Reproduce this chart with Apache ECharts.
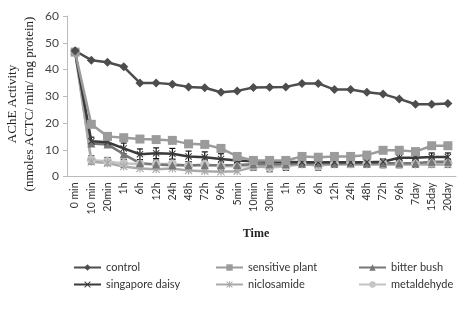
<!DOCTYPE html>
<html>
<head>
<meta charset="utf-8">
<script src="https://cdn.jsdelivr.net/npm/echarts@6/dist/echarts.min.js"></script>
<style>
html, body { margin: 0; padding: 0; background: #fff; }
#chart { width: 458px; height: 322px; }
</style>
</head>
<body>
<div id="chart"></div>
<script>
// time points (x axis)
var times = ['0 min', '10 min', '20min', '1h', '6h', '12h', '24h', '48h', '72h', '96h',
  '5min', '10min', '30min', '1h', '3h', '6h', '12h', '24h', '48h', '72h', '96h', '7day', '15day', '20day'];

// AChE activity per group
var control = [47, 43.5, 42.7, 41, 35, 35, 34.5, 33.5, 33.2, 31.5, 32, 33.3, 33.4, 33.5, 34.8, 34.8, 32.5, 32.5, 31.5, 30.8, 29, 27, 27, 27.3];
var sensitivePlant = [46.5, 19.5, 15, 14.5, 14, 13.8, 13.5, 12.2, 12, 10.5, 7.5, 6, 6, 6, 7.5, 7.2, 7.5, 7.5, 8, 9.8, 9.8, 9.3, 11.5, 11.5];
var bitterBush = [46.5, 12.3, 12, 8.3, 5, 4.5, 4.2, 4.2, 4.2, 4.2, 4.3, 4.6, 4.6, 4.6, 5, 5, 5, 5, 5, 5, 5, 5, 5.5, 5.5];
var singaporeDaisy = [46.5, 13.2, 12.8, 10.5, 8.3, 8.7, 8.5, 7.5, 7.2, 6.5, 6, 5.7, 5.5, 5.5, 5.3, 5.3, 5.3, 5.3, 5.3, 5.5, 7, 7, 7.3, 7.3];
var niclosamide = [46.5, 5.5, 5, 3.7, 3, 2.7, 3, 2.2, 2, 1.8, 2, 3.5, 3.8, 4, 4.5, 4.3, 4.5, 4.5, 4.5, 4.5, 4.5, 4.5, 4.5, 4.5];
var metaldehyde = [46.5, 6.2, 5.6, 4.9, 4.7, 4.6, 4.8, 4, 4.6, 3.8, 3.8, 3.9, 3.3, 3.8, 4.9, 3.9, 4.9, 5.2, 4.9, 4.8, 4.8, 4.9, 5.1, 5];

// error bar half-widths
var daisyErr = [0.5, 1.5, 1.5, 2, 2, 2, 2, 2, 2, 2, 1.5, 1, 1, 1, 1, 1, 1, 1, 1, 1, 1.5, 1, 1.5, 1.5];
var metalErr = [0.5, 1.5, 1.5, 1.5, 1.5, 1.5, 1.5, 1.5, 1.5, 1.5, 1.5, 1.5, 1.5, 1.5, 1.5, 1.5, 1.5, 1.5, 1.5, 1.5, 1.5, 1.5, 1.5, 1.5];

var yTicks = [0, 10, 20, 30, 40, 50, 60];

var myChart = echarts.init(document.getElementById('chart'));

var xMark = 'path://M0,1L1,0L5,4L9,0L10,1L6,5L10,9L9,10L5,6L1,10L0,9L4,5Z';
var starMark = 'path://M0,1L1,0L5,4L9,0L10,1L6,5L10,9L9,10L5,6L1,10L0,9L4,5Z M4.3,0L5.7,0L5.7,10L4.3,10Z';

function lineSeries(name, data, color, symbol, size) {
  return {
    name: name,
    type: 'line',
    data: data,
    symbol: symbol,
    symbolSize: size,
    showAllSymbol: true,
    lineStyle: { color: color, width: 2.5 },
    itemStyle: { color: color },
    z: 3
  };
}

function errorSeries(vals, errs) {
  return {
    type: 'custom',
    silent: true,
    z: 2,
    data: vals.map(function(v, i) { return [i, v - errs[i], v + errs[i]]; }),
    renderItem: function(params, api) {
      var lo = api.coord([api.value(0), api.value(1)]);
      var hi = api.coord([api.value(0), api.value(2)]);
      var w = 3;
      var st = { stroke: '#111', lineWidth: 1.2 };
      return {
        type: 'group',
        children: [
          { type: 'line', shape: { x1: lo[0], y1: lo[1], x2: hi[0], y2: hi[1] }, style: st },
          { type: 'line', shape: { x1: lo[0] - w, y1: lo[1], x2: lo[0] + w, y2: lo[1] }, style: st },
          { type: 'line', shape: { x1: hi[0] - w, y1: hi[1], x2: hi[0] + w, y2: hi[1] }, style: st }
        ]
      };
    }
  };
}

var legendText = { color: '#333', fontSize: 11, fontFamily: 'Lato' };
function legendCol(left, names) {
  return {
    orient: 'vertical',
    left: left,
    top: 257,
    itemWidth: 27,
    itemHeight: 8,
    itemGap: 6,
    textStyle: legendText,
    data: names
  };
}

var option = {
  animation: false,
  grid: { left: 67, right: 2, top: 16, bottom: 145.5 },
  legend: [
    legendCol(68, ['control', 'singapore daisy']),
    legendCol(210, ['sensitive plant', 'niclosamide']),
    legendCol(353, ['bitter bush', 'metaldehyde'])
  ],
  xAxis: {
    type: 'category',
    data: times,
    boundaryGap: true,
    axisLine: { lineStyle: { color: '#bbb', width: 1 } },
    axisTick: { show: false },
    axisLabel: { interval: 0, rotate: 90, fontSize: 10.5, color: '#333', fontFamily: 'Lato', margin: 6 }
  },
  yAxis: {
    type: 'value',
    min: yTicks[0],
    max: yTicks[yTicks.length - 1],
    interval: 10,
    splitLine: { show: false },
    axisLine: { show: true, lineStyle: { color: '#bbb', width: 1 } },
    axisTick: { show: true, length: 4, lineStyle: { color: '#bbb' } },
    axisLabel: { fontSize: 12, color: '#444', fontFamily: 'Lato', margin: 8 }
  },
  graphic: [
    {
      type: 'text', x: 21, y: 104, rotation: Math.PI / 2,
      style: {
        text: 'AChE Activity\n(nmoles ACTC/ min/ mg protein)',
        font: '13px "Liberation Serif"', fill: '#222',
        textAlign: 'center', textVerticalAlign: 'middle', lineHeight: 17
      }
    },
    {
      type: 'text', x: 256, y: 234,
      style: {
        text: 'Time', font: 'bold 12px "Liberation Serif"', fill: '#222',
        textAlign: 'center', textVerticalAlign: 'middle'
      }
    }
  ],
  series: [
    errorSeries(singaporeDaisy, daisyErr),
    errorSeries(metaldehyde, metalErr),
    lineSeries('metaldehyde', metaldehyde, '#c4c4c4', 'circle', 9),
    lineSeries('niclosamide', niclosamide, '#a9a9a9', starMark, 8),
    lineSeries('bitter bush', bitterBush, '#767676', 'triangle', 8),
    lineSeries('singapore daisy', singaporeDaisy, '#3a3a3a', xMark, 7),
    lineSeries('sensitive plant', sensitivePlant, '#9b9b9b', 'rect', 9),
    lineSeries('control', control, '#4d4d4d', 'diamond', 9)
  ]
};

myChart.setOption(option);
</script>
</body>
</html>
